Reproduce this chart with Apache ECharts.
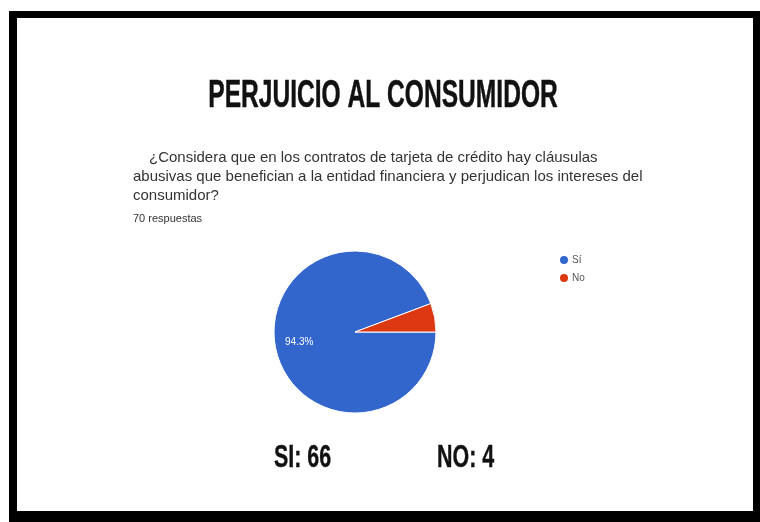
<!DOCTYPE html>
<html>
<head>
<meta charset="utf-8">
<script src="https://cdn.jsdelivr.net/npm/echarts@6/dist/echarts.min.js"></script>
<style>
html,body{margin:0;padding:0;background:#fff;}
#chart{width:760px;height:522px;}
</style>
</head>
<body>
<div id="chart"></div>
<script>
const categories = ['Sí', 'No'];
const counts = [66, 4];
const summaryLabels = ['SI', 'NO'];
const titleText = 'PERJUICIO AL CONSUMIDOR';
const questionLines = [
  '¿Considera que en los contratos de tarjeta de crédito hay cláusulas',
  'abusivas que benefician a la entidad financiera y perjudican los intereses del',
  'consumidor?'
];
const responsesText = '70 respuestas';
const colors = ['#3366CC', '#DC3912'];

const total = counts.reduce((a, b) => a + b, 0);
const chart = echarts.init(document.getElementById('chart'), null, {renderer: 'canvas'});

const graphics = [
  {type: 'rect', x: 9, y: 11, shape: {width: 751, height: 511}, style: {fill: '#000'}, z: -10},
  {type: 'rect', x: 17, y: 18, shape: {width: 736, height: 493}, style: {fill: '#fff'}, z: -9},
  {type: 'text', x: 383, y: 96, scaleX: 0.63,
   style: {text: titleText, font: 'bold 39px "Liberation Sans", Arial, sans-serif', fill: '#111',
           stroke: '#111', lineWidth: 0.5,
           textAlign: 'center', textVerticalAlign: 'middle'}}
];
const qX = [149, 133, 133];
const qY = [158, 177, 196];
questionLines.forEach((t, i) => {
  graphics.push({type: 'text', x: qX[i], y: qY[i],
    style: {text: t, font: '15px "Liberation Sans", Arial, sans-serif', fill: '#333',
            textAlign: 'left', textVerticalAlign: 'middle'}});
});
graphics.push({type: 'text', x: 133, y: 219,
  style: {text: responsesText, font: '11px "Liberation Sans", Arial, sans-serif', fill: '#333',
          textAlign: 'left', textVerticalAlign: 'middle'}});
const sumX = [274, 437];
summaryLabels.forEach((l, i) => {
  graphics.push({type: 'text', x: sumX[i], y: 458, scaleX: 0.67,
    style: {text: l + ': ' + counts[i], font: 'bold 32px "Liberation Sans", Arial, sans-serif', fill: '#111',
            stroke: '#111', lineWidth: 0.4,
            textAlign: 'left', textVerticalAlign: 'middle'}});
});

chart.setOption({
  animation: false,
  color: colors,
  graphic: graphics,
  legend: {
    orient: 'vertical', left: 553, top: 249,
    icon: 'circle', itemWidth: 10, itemHeight: 10, itemGap: 6,
    textStyle: {fontSize: 10, color: '#555', fontFamily: '"Liberation Sans", Arial, sans-serif', padding: [0,0,0,-2]},
    data: categories
  },
  series: [{
    type: 'pie',
    center: [355, 332],
    radius: [0, 81],
    startAngle: 0,
    clockwise: true,
    itemStyle: {borderColor: '#fff', borderWidth: 1},
    label: {
      show: true, position: 'inside', color: '#fff', fontSize: 10,
      fontFamily: '"Liberation Sans", Arial, sans-serif',
      offset: [-13, 2],
      formatter: p => (p.value / total >= 0.1) ? (p.value / total * 100).toFixed(1) + '%' : ''
    },
    labelLine: {show: false},
    emphasis: {disabled: true},
    data: categories.map((c, i) => ({name: c, value: counts[i]}))
  }]
});
</script>
</body>
</html>
